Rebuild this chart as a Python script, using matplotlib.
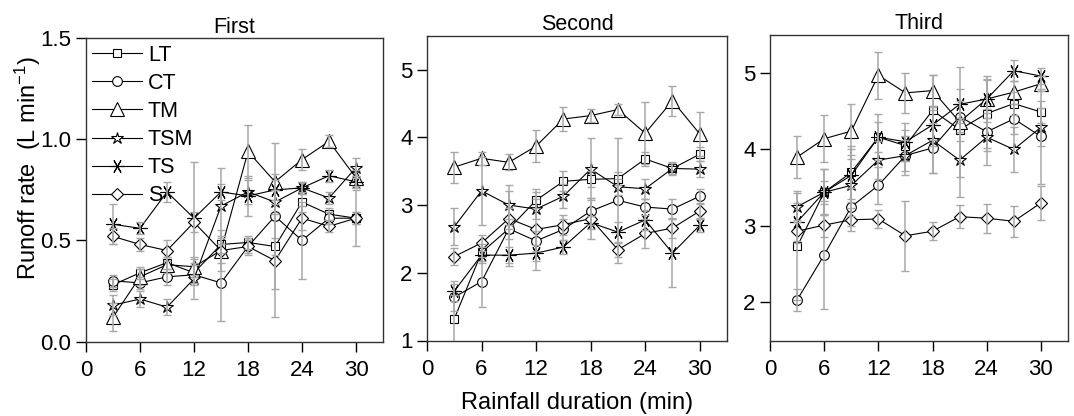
import matplotlib
matplotlib.use("Agg")
import matplotlib.pyplot as plt
import numpy as np

plt.rcParams['font.family'] = ['Liberation Sans', 'DejaVu Sans']
plt.rcParams['mathtext.fontset'] = 'custom'
plt.rcParams['mathtext.rm'] = 'Liberation Sans'
plt.rcParams['mathtext.it'] = 'Liberation Sans:italic'
plt.rcParams['mathtext.default'] = 'regular'

# ---------------- data ----------------
minutes = [3, 6, 9, 12, 15, 18, 21, 24, 27, 30]
series = ["LT", "CT", "TM", "TSM", "TS", "S"]
panel_titles = ["First", "Second", "Third"]

# First rainfall
LT1 = [0.28, 0.34, 0.39, 0.34, 0.48, 0.49, 0.47, 0.69, 0.63, 0.61]
CT1 = [0.30, 0.29, 0.32, 0.33, 0.29, 0.47, 0.62, 0.50, 0.61, 0.61]
TM1 = [0.12, 0.32, 0.38, 0.37, 0.45, 0.94, 0.79, 0.90, 0.99, 0.81]
TSM1 = [0.18, 0.21, 0.17, 0.31, 0.67, 0.74, 0.69, 0.76, 0.71, 0.86]
TS1 = [0.58, 0.56, 0.74, 0.61, 0.74, 0.72, 0.75, 0.76, 0.82, 0.79]
S1 = [0.52, 0.48, 0.45, 0.59, 0.45, 0.47, 0.40, 0.61, 0.57, 0.61]
LT1_err = [0.03, 0.03, 0.03, 0.05, 0.04, 0.03, 0.04, 0.05, 0.03, 0.03]
CT1_err = [0.03, 0.03, 0.04, 0.05, 0.19, 0.04, 0.36, 0.19, 0.03, 0.14]
TM1_err = [0.07, 0.04, 0.04, 0.05, 0.06, 0.13, 0.04, 0.05, 0.03, 0.04]
TSM1_err = [0.05, 0.04, 0.04, 0.10, 0.19, 0.06, 0.06, 0.03, 0.03, 0.05]
TS1_err = [0.10, 0.03, 0.05, 0.28, 0.04, 0.10, 0.05, 0.03, 0.03, 0.03]
S1_err = [0.04, 0.03, 0.05, 0.05, 0.10, 0.03, 0.28, 0.06, 0.03, 0.03]

# Second rainfall
LT2 = [1.32, 2.30, 2.65, 3.07, 3.35, 3.38, 3.39, 3.68, 3.54, 3.75]
CT2 = [1.64, 1.87, 2.65, 2.47, 2.64, 2.91, 3.07, 2.97, 2.94, 3.13]
TM2 = [3.56, 3.69, 3.63, 3.87, 4.27, 4.32, 4.41, 4.06, 4.54, 4.05]
TSM2 = [2.68, 3.21, 3.00, 2.94, 3.13, 3.53, 3.27, 3.24, 3.54, 3.53]
TS2 = [1.73, 2.26, 2.26, 2.29, 2.38, 2.74, 2.60, 2.78, 2.29, 2.70]
S2 = [2.24, 2.44, 2.80, 2.64, 2.71, 2.80, 2.34, 2.58, 2.66, 2.91]
LT2_err = [0.35, 0.12, 0.15, 0.12, 0.15, 0.12, 0.10, 0.10, 0.08, 0.10]
CT2_err = [0.20, 0.37, 0.55, 0.15, 0.15, 0.20, 0.92, 0.12, 0.15, 0.10]
TM2_err = [0.23, 0.10, 0.12, 0.24, 0.17, 0.10, 0.08, 0.46, 0.22, 0.33]
TSM2_err = [0.27, 0.50, 0.30, 0.15, 0.18, 0.46, 0.12, 0.15, 0.10, 0.12]
TS2_err = [0.15, 0.12, 0.12, 0.12, 0.10, 0.10, 0.15, 0.15, 0.50, 0.10]
S2_err = [0.12, 0.12, 0.15, 0.60, 0.15, 0.30, 0.10, 0.22, 0.15, 0.10]

# Third rainfall
LT3 = [2.73, 3.44, 3.70, 4.16, 4.05, 4.51, 4.26, 4.47, 4.60, 4.49]
CT3 = [2.03, 2.62, 3.25, 3.53, 3.92, 4.02, 4.43, 4.23, 4.40, 4.17]
TM3 = [3.90, 4.14, 4.24, 4.97, 4.74, 4.77, 4.36, 4.66, 4.75, 4.86]
TSM3 = [3.25, 3.44, 3.53, 3.86, 3.92, 4.12, 3.86, 4.16, 4.00, 4.29]
TS3 = [3.05, 3.44, 3.66, 4.16, 4.10, 4.32, 4.59, 4.66, 5.03, 4.96]
S3 = [2.93, 3.01, 3.08, 3.09, 2.87, 2.93, 3.12, 3.10, 3.06, 3.30]
LT3_err = [0.70, 0.15, 0.35, 0.20, 0.20, 0.46, 0.15, 0.45, 0.15, 0.15]
CT3_err = [0.14, 0.71, 0.25, 0.24, 0.20, 0.33, 0.20, 0.25, 0.20, 0.62]
TM3_err = [0.28, 0.31, 0.36, 0.31, 0.26, 0.20, 0.72, 0.30, 0.15, 0.10]
TSM3_err = [0.20, 0.30, 0.40, 0.25, 0.25, 0.43, 0.48, 0.37, 0.30, 0.25]
TS3_err = [0.25, 0.30, 0.35, 0.30, 0.25, 0.20, 0.20, 0.25, 0.14, 0.10]
S3_err = [0.15, 0.15, 0.15, 0.12, 0.46, 0.12, 0.15, 0.19, 0.20, 0.22]

panel_values = [
    [LT1, CT1, TM1, TSM1, TS1, S1],
    [LT2, CT2, TM2, TSM2, TS2, S2],
    [LT3, CT3, TM3, TSM3, TS3, S3],
]
panel_errors = [
    [LT1_err, CT1_err, TM1_err, TSM1_err, TS1_err, S1_err],
    [LT2_err, CT2_err, TM2_err, TSM2_err, TS2_err, S2_err],
    [LT3_err, CT3_err, TM3_err, TSM3_err, TS3_err, S3_err],
]
ylims = [(0, 1.5), (1, 5.5), (1.5, 5.5)]
yticks = [[0.0, 0.5, 1.0, 1.5], [1, 2, 3, 4, 5], [2, 3, 4, 5]]
yticklabels = [["0.0", "0.5", "1.0", "1.5"], ["1", "2", "3", "4", "5"], ["2", "3", "4", "5"]]
xticks = [0, 6, 12, 18, 24, 30]

# ---------------- style ----------------
markers = {"LT": ('s', 6.0), "CT": ('o', 7.0), "TM": ('^', 9.5),
           "TSM": ('*', 9.0), "TS": ((6, 2, 30), 10.0), "S": ('D', 6.5)}

W, H = 1074, 416
fig = plt.figure(figsize=(W / 100, H / 100), dpi=100)
boxes = [(86, 383, 38.3, 341.5), (427, 727, 35.7, 340.5), (770, 1068, 34.8, 340.5)]

axes = []
for i, (l, r, t, b) in enumerate(boxes):
    ax = fig.add_axes([l / W, 1 - b / H, (r - l) / W, (b - t) / H])
    axes.append(ax)
    for j, name in enumerate(series):
        ax.errorbar(minutes, panel_values[i][j], yerr=panel_errors[i][j], fmt='none',
                    ecolor='#a8a8a8', elinewidth=1.1, capsize=2.8, capthick=1.0, zorder=4)
    for j, name in enumerate(series):
        m, ms = markers[name]
        ax.plot(minutes, panel_values[i][j], color='black', lw=0.8, marker=m, ms=ms,
                mfc='white', mec='black', mew=0.8, label=name, zorder=3)
    ax.set_xlim(0, 33)
    ax.set_ylim(*ylims[i])
    ax.set_xticks(xticks)
    ax.set_xticklabels([str(v) for v in xticks])
    ax.set_yticks(yticks[i])
    ax.set_yticklabels(yticklabels[i])
    ax.tick_params(direction='out', length=7.5, width=1.0, labelsize=16, colors='black')
    ax.tick_params(axis='x', pad=6)
    ax.tick_params(axis='y', pad=3)
    for s in ax.spines.values():
        s.set_linewidth(1.0)
        s.set_color('#333333')
    ax.set_title(panel_titles[i], fontsize=15.5, pad=4)

leg = axes[0].legend(loc='upper left', frameon=False, fontsize=15.5, handlelength=2.3,
                     handletextpad=0.28, labelspacing=0.33, borderaxespad=0.15, borderpad=0.15)

fig.text(27.5 / W, 1 - 168 / H, "Runoff rate  (L min$^{-1}$)", rotation=90,
         ha='center', va='center', fontsize=17)
fig.text(577 / W, 1 - 403 / H, "Rainfall duration (min)", ha='center', va='center', fontsize=17)

fig.savefig("out.png", dpi=100)
